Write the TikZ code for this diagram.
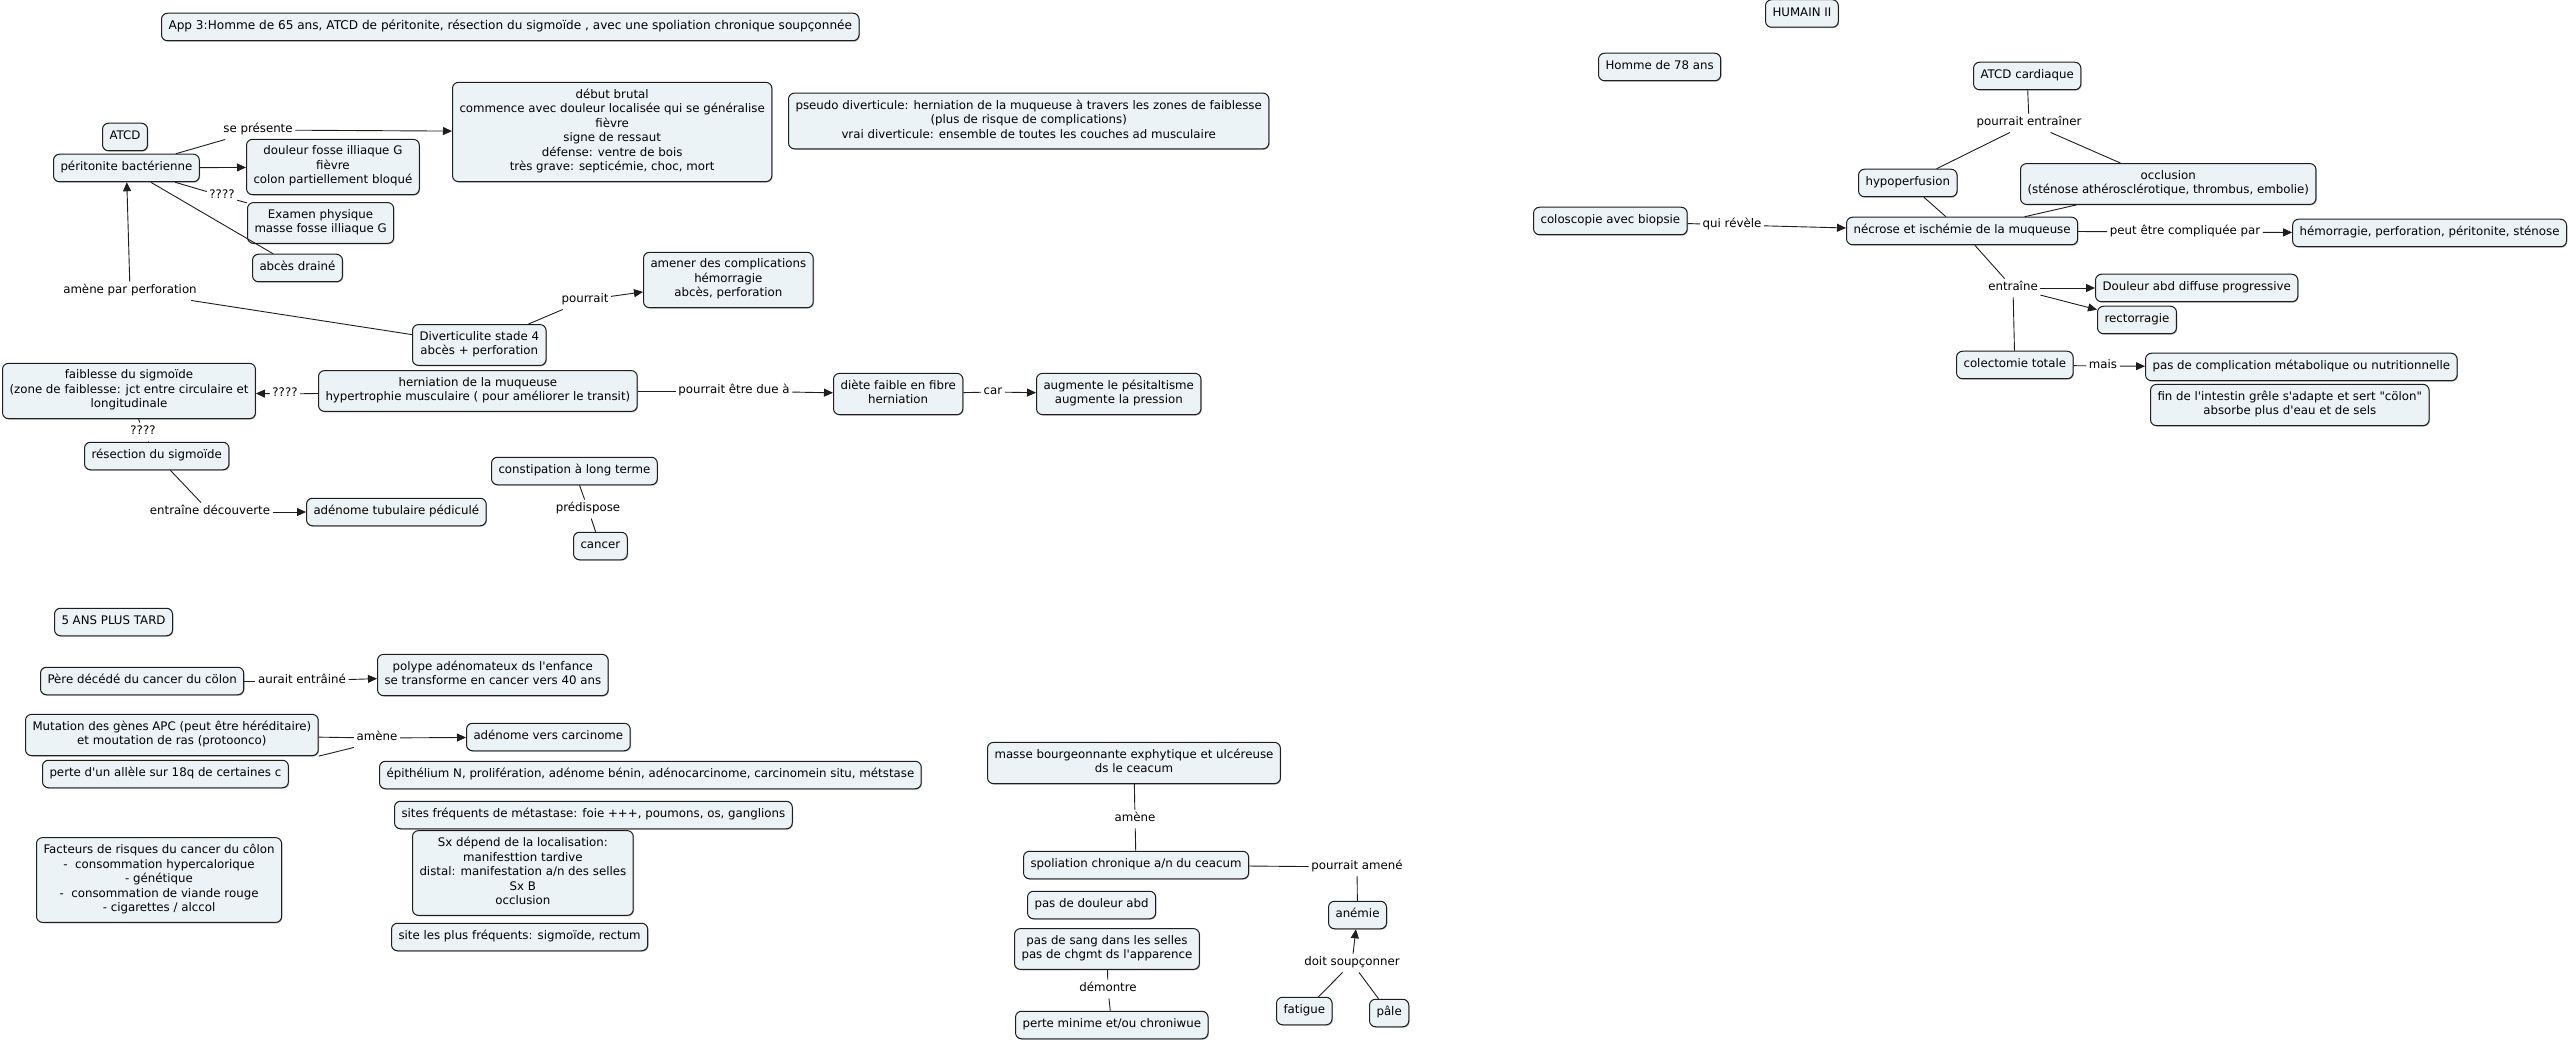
\documentclass[tikz,border=0pt]{standalone}
\usepackage{fontspec}
\setmainfont{DejaVu Sans}[Ligatures=TeXOff]
\usetikzlibrary{arrows.meta,shadows}
\definecolor{boxfill}{RGB}{236,243,246}
\definecolor{edge}{RGB}{30,30,30}
\begin{document}
\begin{tikzpicture}[x=1pt,y=-1pt,
  font=\fontsize{11.8}{14.5}\selectfont,
  box/.style={draw=edge, line width=1pt, rounded corners=6pt, fill=boxfill,
    inner xsep=7pt, inner ysep=6.5pt, align=center,
    drop shadow={shadow xshift=0.8pt,shadow yshift=-0.9pt,opacity=0.35,fill=black},
    execute at begin node=\strut, execute at end node=\strut},
  lbl/.style={inner xsep=2.5pt, inner ysep=2pt, execute at begin node=\strut},
  con/.style={line width=0.9pt, draw=edge},
  arr/.style={-{Triangle[length=9pt,width=8pt]}}
]
\fill[white] (0,0) rectangle (2570,1040);
\useasboundingbox (0,0) rectangle (2570,1040);

% ---------- top-left ----------
\node[box, anchor=west, font=\fontsize{12.1}{14.5}\selectfont] (title) at (161,27) {App 3:Homme de 65 ans, ATCD de péritonite, résection du sigmoïde , avec une spoliation chronique soupçonnée};
\node[box, anchor=west] (atcd) at (102,137) {ATCD};
\node[box, anchor=west] (perit) at (53,168) {péritonite bactérienne};
\node[box, anchor=west] (doul) at (246,167) {douleur fosse illiaque G\\fièvre\\colon partiellement bloqué};
\node[box, anchor=west] (exam) at (247,223) {Examen physique\\masse fosse illiaque G};
\node[box, anchor=west] (abces) at (252,268) {abcès drainé};
\node[box, anchor=west] (debut) at (452,132) {début brutal\\commence avec douleur localisée qui se généralise\\fièvre\\signe de ressaut\\défense: ventre de bois\\très grave: septicémie, choc, mort};
\node[box, anchor=west] (pseudo) at (788,121) {pseudo diverticule: herniation de la muqueuse à travers les zones de faiblesse\\(plus de risque de complications)\\vrai diverticule: ensemble de toutes les couches ad musculaire};
\node[box, anchor=west] (amener) at (643,280) {amener des complications\\hémorragie\\abcès, perforation};
\node[box, anchor=west] (divert) at (412,345) {Diverticulite stade 4\\abcès + perforation};
\node[box, anchor=west] (hern) at (318,391) {herniation de la muqueuse\\hypertrophie musculaire ( pour améliorer le transit)};
\node[box, anchor=west] (faib) at (2,391) {faiblesse du sigmoïde\\(zone de faiblesse: jct entre circulaire et\\longitudinale};
\node[box, anchor=west] (diete) at (833,394) {diète faible en fibre\\herniation};
\node[box, anchor=west] (augm) at (1036,394) {augmente le pésitaltisme\\augmente la pression};
\node[box, anchor=west] (resec) at (84,456) {résection du sigmoïde};
\node[box, anchor=west] (adtub) at (306,512) {adénome tubulaire pédiculé};
\node[box, anchor=west] (const) at (491,471) {constipation à long terme};
\node[box, anchor=west] (cancer) at (573,546) {cancer};

\node[lbl] (lsep) at (258,130) {se présente};
\node[lbl] (lq1) at (222,196) {????};
\node[lbl] (lamp) at (130,291) {amène par perforation};
\node[lbl] (lpour) at (585,300) {pourrait};
\node[lbl] (lq2) at (285,394) {????};
\node[lbl] (lq3) at (143,432) {????};
\node[lbl] (lpedu) at (734,391) {pourrait être due à};
\node[lbl] (lcar) at (993,392) {car};
\node[lbl] (lentd) at (210,512) {entraîne découverte};
\node[lbl] (lpred) at (588,509) {prédispose};

\draw[con] (perit) -- (lsep);
\draw[con,arr] (lsep) -- (debut);
\draw[con,arr] (perit) -- (doul);
\draw[con] (perit) -- (lq1);
\draw[con] (lq1) -- (exam);
\draw[con] (perit) -- (abces);
\draw[con] (divert) -- (lamp);
\draw[con,arr] (lamp) -- (perit);
\draw[con] (divert) -- (lpour);
\draw[con,arr] (lpour) -- (amener);
\draw[con] (hern) -- (lq2);
\draw[con,arr] (lq2) -- (faib);
\draw[con] (faib) -- (lq3);
\draw[con] (lq3) -- (resec);
\draw[con] (resec) -- (lentd);
\draw[con,arr] (lentd) -- (adtub);
\draw[con] (hern) -- (lpedu);
\draw[con,arr] (lpedu) -- (diete);
\draw[con] (diete) -- (lcar);
\draw[con,arr] (lcar) -- (augm);
\draw[con] (const) -- (lpred);
\draw[con] (lpred) -- (cancer);

% ---------- middle-left ----------
\node[box, anchor=west] (ans5) at (54,622) {5 ANS PLUS TARD};
\node[box, anchor=west] (pere) at (40,681) {Père décédé du cancer du cölon};
\node[lbl] (laur) at (302,681) {aurait entrâiné};
\node[box, anchor=west] (polype) at (377,675) {polype adénomateux ds l'enfance\\se transforme en cancer vers 40 ans};
\node[box, anchor=west] (mut) at (25,735) {Mutation des gènes APC (peut être héréditaire)\\et moutation de ras (protoonco)};
\node[lbl] (lamene) at (377,738) {amène};
\node[box, anchor=west] (advc) at (466,737) {adénome vers carcinome};
\node[box, anchor=west] (perte) at (42,774) {perte d'un allèle sur 18q de certaines c};
\node[box, anchor=west] (epit) at (379,775) {épithélium N, prolifération, adénome bénin, adénocarcinome, carcinomein situ, métstase};
\node[box, anchor=west] (sites) at (394,815) {sites fréquents de métastase: foie +++, poumons, os, ganglions};
\node[box, anchor=west] (fact) at (36,880) {Facteurs de risques du cancer du côlon\\-\ \ consommation hypercalorique\\- génétique\\-\ \ consommation de viande rouge\\- cigarettes / alccol};
\node[box, anchor=west] (sxdep) at (412,873) {Sx dépend de la localisation:\\manifesttion tardive\\distal: manifestation a/n des selles\\Sx B\\occlusion};
\node[box, anchor=west] (siteplus) at (391,937) {site les plus fréquents: sigmoïde, rectum};

\draw[con] (pere) -- (laur);
\draw[con,arr] (laur) -- (polype);
\draw[con] (mut) -- (lamene);
\draw[con] (mut.south east) -- (lamene.south west);
\draw[con,arr] (lamene) -- (advc);

% ---------- bottom-middle ----------
\node[box, anchor=west] (masse) at (987,763) {masse bourgeonnante exphytique et ulcéreuse\\ds le ceacum};
\node[lbl] (lamene2) at (1135,819) {amène};
\node[box, anchor=west] (spol) at (1023,865) {spoliation chronique a/n du ceacum};
\node[lbl] (lpam) at (1357,867) {pourrait amené};
\node[box, anchor=west] (anemie) at (1328,915) {anémie};
\node[box, anchor=west] (pasdoul) at (1027,905) {pas de douleur abd};
\node[box, anchor=west] (passang) at (1014,949) {pas de sang dans les selles\\pas de chgmt ds l'apparence};
\node[lbl] (ldem) at (1108,989) {démontre};
\node[box, anchor=west] (pertemin) at (1015,1025) {perte minime et/ou chroniwue};
\node[lbl] (ldoit) at (1352,963) {doit soupçonner};
\node[box, anchor=west] (fatigue) at (1276,1011) {fatigue};
\node[box, anchor=west] (pale) at (1369,1013) {pâle};

\draw[con] (masse) -- (lamene2);
\draw[con] (lamene2) -- (spol);
\draw[con] (spol) -- (lpam);
\draw[con] (lpam) -- (anemie);
\draw[con] (passang) -- (ldem);
\draw[con] (ldem) -- (pertemin);
\draw[con] (fatigue) -- (ldoit);
\draw[con] (pale) -- (ldoit);
\draw[con,arr] (ldoit) -- (anemie);

% ---------- right ----------
\node[box, anchor=west] (humain) at (1765,13.5) {HUMAIN II};
\node[box, anchor=west] (homme78) at (1598,67) {Homme de 78 ans};
\node[box, anchor=west] (atcdc) at (1973,76) {ATCD cardiaque};
\node[lbl] (lpe) at (2029,123) {pourrait entraîner};
\node[box, anchor=west] (hypo) at (1858,183) {hypoperfusion};
\node[box, anchor=west] (occl) at (2020,184) {occlusion\\(sténose athérosclérotique, thrombus, embolie)};
\node[box, anchor=west] (colo) at (1533,221) {coloscopie avec biopsie};
\node[lbl] (lqr) at (1732,225) {qui révèle};
\node[box, anchor=west] (necr) at (1846,231) {nécrose et ischémie de la muqueuse};
\node[lbl] (lpec) at (2185,232) {peut être compliquée par};
\node[box, anchor=east] (hemo) at (2567,233) {hémorragie, perforation, péritonite, sténose};
\node[lbl] (lentr) at (2013,288) {entraîne};
\node[box, anchor=west] (doulabd) at (2095,288) {Douleur abd diffuse progressive};
\node[box, anchor=west] (recto) at (2097,320) {rectorragie};
\node[box, anchor=west] (colec) at (1956,365) {colectomie totale};
\node[lbl] (lmais) at (2103,366) {mais};
\node[box, anchor=west] (pascomp) at (2145,367) {pas de complication métabolique ou nutritionnelle};
\node[box, anchor=west] (fin) at (2150,405) {fin de l'intestin grêle s'adapte et sert "cölon"\\absorbe plus d'eau et de sels};

\draw[con] (atcdc) -- (lpe);
\draw[con] (lpe) -- (hypo);
\draw[con] (lpe) -- (occl);
\draw[con] (hypo) -- (necr);
\draw[con] (occl) -- (necr);
\draw[con] (colo) -- (lqr);
\draw[con,arr] (lqr) -- (necr);
\draw[con] (necr) -- (lpec);
\draw[con,arr] (lpec) -- (hemo);
\draw[con] (necr) -- (lentr);
\draw[con,arr] (lentr) -- (doulabd);
\draw[con,arr] (lentr) -- (recto);
\draw[con] (lentr) -- (colec);
\draw[con] (colec) -- (lmais);
\draw[con,arr] (lmais) -- (pascomp);
\end{tikzpicture}
\end{document}
